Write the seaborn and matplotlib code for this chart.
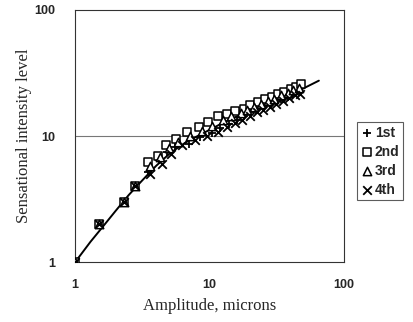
import matplotlib
matplotlib.use("Agg")
import matplotlib.pyplot as plt
import seaborn as sns
import pandas as pd

# amplitude (microns) and sensation level for each session
x_1st = [1, 1.5, 2.3, 2.8, 3.5, 4.2, 4.8, 5.5, 7, 8.5, 10.5, 12, 14, 16, 18, 20, 22, 25, 28, 31, 34, 38, 42, 46]
y_1st = [1, 2, 3, 4, 5.2, 6.5, 7.5, 8.2, 8.6, 9.8, 10.5, 11.5, 12.5, 13.5, 14.5, 15.5, 16, 17, 18, 19, 19.5, 20.5, 21.5, 22.5]

x_2nd = [1, 1.5, 2.3, 2.8, 3.5, 4.1, 4.7, 5.6, 6.8, 8.3, 9.8, 11.5, 13.5, 15.5, 18, 20, 23, 26, 29, 32, 36, 40, 44, 48]
y_2nd = [1, 2, 3, 4, 6.2, 7, 8.5, 9.5, 10.8, 11.8, 13, 14.5, 15, 15.8, 16.5, 17.5, 18.5, 19.5, 20.5, 21.5, 22.5, 23.5, 24.5, 26]

x_3rd = [1, 1.5, 2.3, 2.8, 3.6, 4.3, 5, 5.8, 7.2, 8.8, 10.5, 12.5, 14.5, 17, 19, 21.5, 24, 27, 30, 34, 38, 42, 46]
y_3rd = [1, 2, 3, 4, 5.8, 6.8, 8, 9, 10, 11, 12, 13.5, 14.5, 15.2, 16, 17, 17.8, 18.8, 19.8, 21, 22, 23, 24]

x_4th = [1, 1.5, 2.3, 2.8, 3.6, 4.4, 5.2, 6.2, 7.8, 9.5, 11.5, 13.5, 15.5, 17.5, 20, 22.5, 25, 28, 31, 35, 39, 43, 47]
y_4th = [1, 2, 3, 4, 5, 6, 7.2, 8.5, 9.3, 10, 10.8, 11.8, 12.8, 13.5, 14.5, 15.5, 16.2, 17, 18, 19, 20, 21, 21.5]

# fitted curve
x_fit = [1, 1.3, 1.6, 2, 2.5, 3, 3.5, 4, 4.5, 5, 6, 7, 8, 10, 12, 15, 20, 25, 30, 40, 50, 65]
y_fit = [1, 1.45, 1.9, 2.55, 3.4, 4.2, 5.0, 5.8, 6.5, 7.2, 8.3, 9.2, 9.9, 11.2, 12.4, 13.9, 15.9, 17.6, 19.1, 21.7, 23.9, 27.5]

labels = ["1st", "2nd", "3rd", "4th"]
mk = {"1st": "+", "2nd": "s", "3rd": "^", "4th": "x"}

rows = []
for lab, xs, ys in zip(labels, [x_1st, x_2nd, x_3rd, x_4th], [y_1st, y_2nd, y_3rd, y_4th]):
    for a, b in zip(xs, ys):
        rows.append({"amp": a, "level": b, "session": lab})
df = pd.DataFrame(rows)

sns.set_style("white")
fig = plt.figure(figsize=(4.13, 3.22), dpi=100)
ax = fig.add_axes([0.182, 0.186, 0.651, 0.783])

ax.plot(x_fit, y_fit, color="black", lw=1.4, zorder=3)

for lab in labels:
    sub = df[df.session == lab]
    if lab in ("2nd", "3rd"):
        sns.scatterplot(data=sub, x="amp", y="level", ax=ax, marker=mk[lab], s=36,
                        facecolor="white", edgecolor="black", linewidth=1.1,
                        label=lab, zorder=4)
    else:
        sns.scatterplot(data=sub, x="amp", y="level", ax=ax, marker=mk[lab], s=38,
                        color="black", linewidth=1.3, label=lab, zorder=4)

ax.set_xscale("log")
ax.set_yscale("log")
ax.set_xlim(1, 100)
ax.set_ylim(1, 100)
ax.axhline(10, color="#777777", lw=0.8, zorder=1)
for s in ax.spines.values():
    s.set_color("#333333")
    s.set_linewidth(0.8)

ax.set_xticks([1, 10, 100])
ax.set_yticks([1, 10, 100])
ax.set_xticks([], minor=True)
ax.set_yticks([], minor=True)
tick_font = dict(fontfamily="Liberation Sans", fontweight="bold", fontsize=9)
ax.set_xticklabels(["1", "10", "100"], **tick_font)
ax.set_yticklabels(["1", "10", "100"], **tick_font)
ax.tick_params(axis="x", length=0, pad=12)
ax.tick_params(axis="y", length=0, pad=14)

ax.set_xlabel("Amplitude, microns", fontfamily="Liberation Serif", fontsize=12, labelpad=5)
ax.set_ylabel("Sensational intensity level", fontfamily="Liberation Serif", fontsize=12, labelpad=2)

leg = ax.legend(loc="center left", bbox_to_anchor=(1.05, 0.40), frameon=True, fancybox=False,
                edgecolor="#333333", handletextpad=0.1, borderpad=0.25, labelspacing=0.35,
                handlelength=0.9, borderaxespad=0,
                prop={"family": "Liberation Sans", "weight": "bold", "size": 10})
leg.get_frame().set_linewidth(0.8)

fig.savefig("out.png", dpi=100)
